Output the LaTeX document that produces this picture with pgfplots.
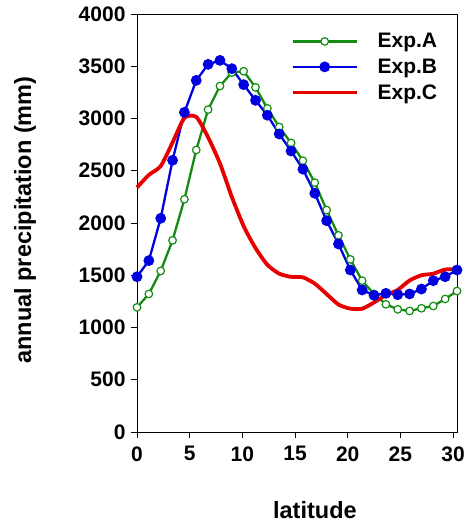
\documentclass[border=0pt]{standalone}
\usepackage{fontspec}
\setmainfont{Liberation Sans}
\usepackage{pgfplots}
\pgfplotsset{compat=1.18}

\definecolor{expA}{RGB}{20,140,20}
\definecolor{expB}{RGB}{0,0,225}
\definecolor{expC}{RGB}{230,0,0}

\pgfplotstableread{
x      a     b     c
0      1193  1486  2340
1.125  1321  1640  2460
2.25   1541  2045  2545
3.375  1834  2600  2770
4.5    2227  3059  3005
5.625  2699  3365  3015
6.75   3085  3518  2820
7.875  3311  3556  2570
9.0    3440  3477  2250
10.125 3452  3324  1970
11.25  3298  3174  1760
12.375 3097  3031  1600
13.5   2919  2852  1515
14.625 2766  2689  1485
15.75  2596  2515  1480
16.875 2386  2284  1420
18.0   2124  2022  1320
19.125 1882  1799  1220
20.25  1652  1550  1180
21.375 1448  1359  1180
22.5   1320  1308  1240
23.625 1222  1327  1310
24.75  1174  1314  1360
25.875 1158  1321  1450
27.0   1184  1368  1500
28.125 1206  1448  1515
29.25  1273  1486  1555
30.375 1349  1550  1557
}\prec

\begin{document}
\begin{tikzpicture}
\begin{axis}[
  scale only axis, width=320pt, height=418pt,
  xmin=0, xmax=30.375, ymin=0, ymax=4000,
  xtick={0,5,...,30}, ytick={0,500,...,4000},
  tick pos=left, tick align=outside, major tick length=6pt,
  tick style={black, line width=0.8pt},
  axis line style={line width=0.9pt},
  /pgf/number format/assume math mode=true,
  /pgf/number format/set thousands separator={},
  ticklabel style={font=\fontsize{21}{24}\selectfont\bfseries},
  xticklabel style={yshift=-5pt},
  yticklabel style={xshift=-2pt},
  label style={font=\fontsize{23.5}{27}\selectfont\bfseries},
  xlabel={latitude}, ylabel={annual precipitation (mm)},
  xlabel style={at={(axis description cs:0.556,-0.187)}, anchor=center},
  ylabel style={at={(axis description cs:-0.35,0.507)}, anchor=center},
  clip=false,
  legend style={draw=none, fill=none, inner sep=0pt,
    at={(axis description cs:0.48,0.9587)}, anchor=north west,
    font=\fontsize{21}{24}\selectfont\bfseries, row sep=5.5pt,
    /tikz/every odd column/.append style={column sep=17pt}},
  legend cell align=left,
  legend image code/.code={
    \path (0pt,-8pt);
    \draw[mark repeat=2,mark phase=2,#1] plot coordinates {(0pt,0pt) (32pt,0pt) (64pt,0pt)};},
]
\addplot[expA, line width=2.3pt, mark=*, mark size=3.8pt,
  mark options={fill=white, draw=expA, line width=1.2pt}] table[x=x, y=a] {\prec};
\addlegendentry{Exp.A}
\addplot[expB, line width=2.3pt, mark=*, mark size=4.2pt,
  mark options={fill=expB, draw=expB}] table[x=x, y=b] {\prec};
\addlegendentry{Exp.B}
\addplot[expC, line width=3.8pt, smooth, tension=0.4] table[x=x, y=c] {\prec};
\addlegendentry{Exp.C}
\end{axis}
\pgfresetboundingbox
\path[use as bounding box] (-137pt,-90pt) rectangle (330pt,432pt);
\end{tikzpicture}
\end{document}
